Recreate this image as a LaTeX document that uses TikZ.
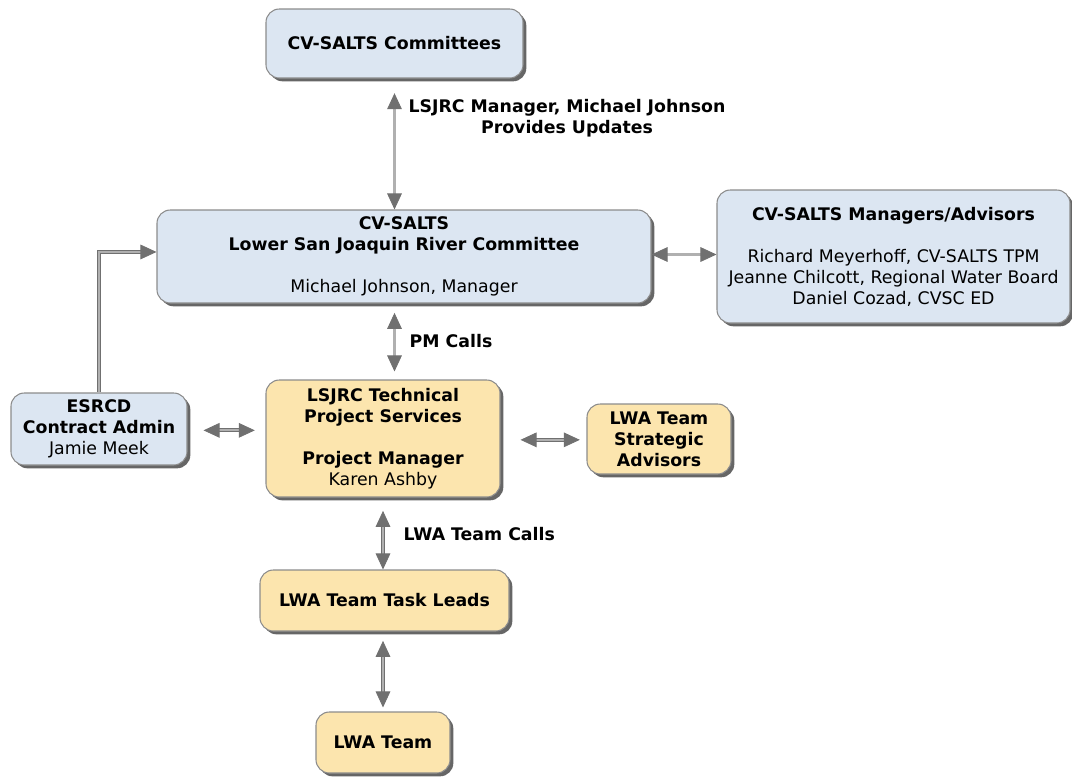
\documentclass[tikz,border=0pt]{standalone}
\usepackage{fontspec}
\setmainfont{DejaVu Sans}
\usetikzlibrary{shadows,arrows.meta}

\definecolor{boxblue}{HTML}{DCE6F2}
\definecolor{boxyellow}{HTML}{FCE5AE}
\definecolor{boxline}{HTML}{8C8C8C}
\definecolor{tipgray}{HTML}{707070}
\definecolor{shaftgray}{HTML}{B0B0B0}

\tikzset{
  every node/.style={font=\fontsize{13}{15.75}\selectfont},
  boxsize/.style 2 args={minimum width=#1*0.75pt, minimum height=#2*0.75pt},
  orgbox/.style={draw=boxline, line width=0.8pt, rounded corners=10pt,
    align=center, inner sep=0pt,
    drop shadow={shadow xshift=2.5pt, shadow yshift=-2.5pt, fill=black, opacity=0.6}},
  bluebox/.style={orgbox, fill=boxblue},
  yellowbox/.style={orgbox, fill=boxyellow},
  gtip/.tip={Triangle[length=12pt, width=11pt, color=tipgray]},
  link/.style={draw=tipgray, line width=0.6pt, double=shaftgray, double distance=1.6pt, gtip-gtip},
  feed/.style={draw=tipgray, line width=0.6pt, double=shaftgray, double distance=1.6pt, -gtip},
  linklabel/.style={font=\fontsize{13}{15.75}\selectfont\bfseries, align=center}
}

\begin{document}
\begin{tikzpicture}[x=0.75pt, y=-0.75pt]
  \useasboundingbox (0,0) rectangle (1072,776);

  % boxes
  \node[bluebox, boxsize={257}{69}] (comm) at (394.5,43.5)
    {\textbf{CV-SALTS Committees}};
  \node[bluebox, boxsize={494}{93}] (lsjrc) at (404,256.5)
    {\textbf{CV-SALTS}\\ \textbf{Lower San Joaquin River Committee}\\[15.75pt]
     Michael Johnson, Manager};
  \node[bluebox, boxsize={353}{133}] (mgrs) at (893.5,256.5)
    {\textbf{CV-SALTS Managers/Advisors}\\[15.75pt]
     Richard Meyerhoff, CV-SALTS TPM\\ Jeanne Chilcott, Regional Water Board\\
     Daniel Cozad, CVSC ED};
  \node[bluebox, boxsize={176}{72}] (esrcd) at (99,429)
    {\textbf{ESRCD}\\ \textbf{Contract Admin}\\ Jamie Meek};
  \node[yellowbox, boxsize={234}{117}] (tech) at (383,438.5)
    {\textbf{LSJRC Technical}\\ \textbf{Project Services}\\[15.75pt]
     \textbf{Project Manager}\\ Karen Ashby};
  \node[yellowbox, boxsize={144}{70}] (strat) at (659,439)
    {\textbf{LWA Team}\\ \textbf{Strategic}\\ \textbf{Advisors}};
  \node[yellowbox, boxsize={249}{61}] (leads) at (384.5,600.5)
    {\textbf{LWA Team Task Leads}};
  \node[yellowbox, boxsize={134}{61}] (team) at (383,742.5)
    {\textbf{LWA Team}};

  % connectors
  \draw[link, shorten <=11pt] (comm.south) -- (comm.south |- lsjrc.north);
  \draw[link, shorten <=7pt, shorten >=6pt] (comm.south |- lsjrc.south) -- (comm.south |- tech.north);
  \draw[link] ([yshift=1.5pt]lsjrc.east) -- ([yshift=1.5pt]lsjrc.east -| mgrs.west);
  \draw[feed] (esrcd.north) |- ([yshift=3.4pt]lsjrc.west);
  \draw[link, shorten <=12pt, shorten >=8pt] ([yshift=-1pt]esrcd.east) -- ([yshift=-1pt]esrcd.east -| tech.west);
  \draw[link, shorten <=15pt, shorten >=5pt] ([yshift=-1pt]tech.east) -- ([yshift=-1pt]tech.east -| strat.west);
  \draw[link, shorten <=10pt] (tech.south) -- (tech.south |- leads.north);
  \draw[link, shorten <=7pt, shorten >=3pt] (tech.south |- leads.south) -- (team.north);

  % connector labels
  \node[linklabel] (updates) at (567,118)
    {LSJRC Manager, Michael Johnson\\ Provides Updates};
  \node[linklabel, anchor=west] (pmcalls) at (405,341) {PM Calls};
  \node[linklabel, anchor=west] (teamcalls) at (399,534) {LWA Team Calls};
\end{tikzpicture}
\end{document}
